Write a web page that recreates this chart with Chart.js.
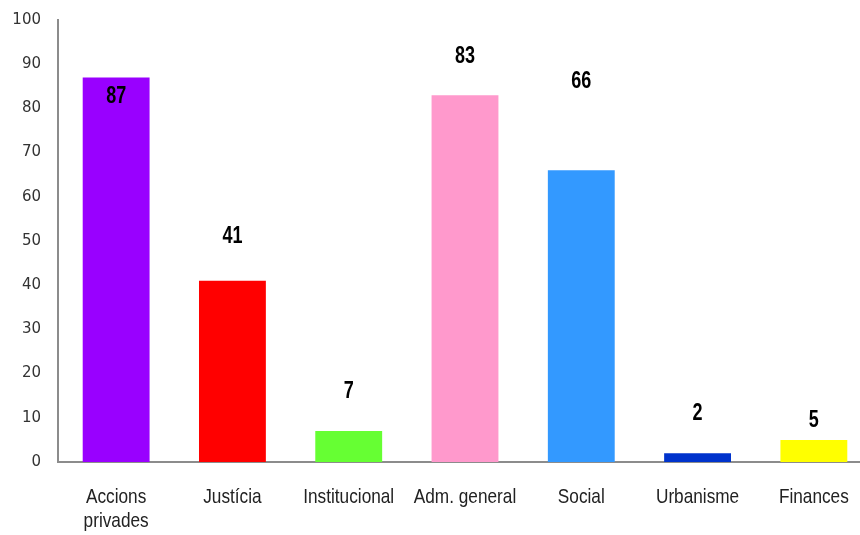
<!DOCTYPE html>
<html>
<head>
<meta charset="utf-8">
<script src="https://cdn.jsdelivr.net/npm/chart.js@4/dist/chart.umd.min.js"></script>
<style>
  html, body { margin: 0; padding: 0; background: #fff; overflow: hidden; }
  #wrap { width: 880px; height: 535px; }
</style>
</head>
<body>
<div id="wrap"><canvas id="chart"></canvas></div>
<script>
// --- Data
const categories = [["Accions", "privades"], "Justícia", "Institucional", "Adm. general", "Social", "Urbanisme", "Finances"];
const values = [87, 41, 7, 83, 66, 2, 5];
const barColors = ["#9900ff", "#ff0000", "#66ff33", "#ff99cc", "#3399ff", "#0033cc", "#ffff00"];
const yTicks = [0, 10, 20, 30, 40, 50, 60, 70, 80, 90, 100];

// text estret: escala horitzontal (no hi ha Arial Narrow instal·lada)
function narrowText(ctx, txt, x, y, sx) {
  ctx.save();
  ctx.translate(x, y);
  ctx.scale(sx, 1);
  ctx.fillText(txt, 0, 0);
  ctx.restore();
}

// --- Plugin: etiquetes de l'eix X i valors damunt de les barres
const narrowLabels = {
  id: 'narrowLabels',
  afterDatasetsDraw(chart, args, opts) {
    const { ctx } = chart;
    const xScale = chart.scales.x;
    const meta = chart.getDatasetMeta(0);
    ctx.save();
    ctx.textAlign = 'center';
    ctx.textBaseline = 'middle';

    // valors
    ctx.font = opts.valueFont;
    ctx.fillStyle = '#000';
    meta.data.forEach((bar, i) => {
      narrowText(ctx, String(values[i]), bar.x, bar.y + opts.offsets[i], opts.valueScale);
    });

    // categories
    ctx.font = opts.labelFont;
    ctx.fillStyle = '#222';
    categories.forEach((lab, i) => {
      const lines = Array.isArray(lab) ? lab : [lab];
      const x = xScale.getPixelForTick(i);
      lines.forEach((ln, j) => {
        narrowText(ctx, ln, x, xScale.top + opts.labelTop + j * opts.lineGap, opts.labelScale);
      });
    });
    ctx.restore();
  }
};

const ctx = document.getElementById("chart").getContext("2d");
new Chart(ctx, {
  type: "bar",
  data: {
    labels: categories,
    datasets: [{ data: values, backgroundColor: barColors, barPercentage: 0.575, categoryPercentage: 1 }]
  },
  options: {
    responsive: true, maintainAspectRatio: false, animation: false,
    layout: { padding: { top: 20, right: 8, left: 0, bottom: 0 } },
    plugins: {
      legend: { display: false },
      tooltip: { enabled: false },
      narrowLabels: {
        valueFont: "bold 24px 'Liberation Sans', Arial, sans-serif",
        valueScale: 0.75,
        labelFont: "21px 'Liberation Sans', Arial, sans-serif",
        labelScale: 0.82,
        offsets: [19, -44, -40, -39, -89, -40, -20],
        labelTop: 35,
        lineGap: 24
      }
    },
    scales: {
      x: {
        grid: { display: false, drawTicks: false },
        border: { color: "#8c8c8c", width: 2 },
        ticks: { display: false },
        afterFit(scale) { scale.height = 73; }
      },
      y: {
        min: 0, max: 100,
        afterBuildTicks(scale) { scale.ticks = yTicks.map(v => ({ value: v })); },
        grid: { display: false, drawTicks: true, tickLength: 17 },
        border: { color: "#8c8c8c", width: 2 },
        ticks: {
          color: "#333",
          padding: 0,
          font: { family: "'DejaVu Sans', sans-serif", size: 15 }
        },
        afterFit(scale) { scale.width = 58; }
      }
    }
  },
  plugins: [narrowLabels]
});
</script>
</body>
</html>
